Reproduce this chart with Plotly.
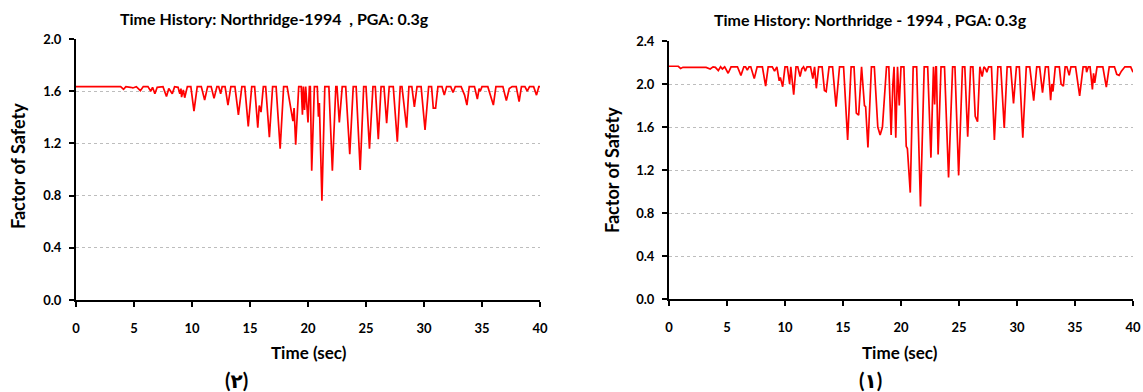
import plotly.graph_objects as go

# ---------------- data: panel (2) (left) ----------------
time_2 = [
    0, 3.85, 4.1, 4.3, 4.7, 4.9, 5.2, 5.55, 5.8, 6.2,
    6.45, 6.6, 6.8, 7.0, 7.5, 7.8, 8.0, 8.3, 8.5, 8.8,
    8.95, 9.05, 9.1, 9.25, 9.37, 9.6, 9.9, 10.17, 10.45, 10.8,
    11.09, 11.35, 11.65, 11.9, 12.15, 12.3, 12.47, 12.6, 12.85, 13.1,
    13.35, 13.7, 14.0, 14.3, 14.55, 14.85, 15.15, 15.4, 15.67, 15.8,
    15.95, 16.15, 16.35, 16.67, 16.95, 17.25, 17.6, 17.9, 18.2, 18.55,
    18.7, 18.8, 18.94, 19.2, 19.42, 19.52, 19.6, 19.7, 19.8, 20.0,
    20.12, 20.2, 20.32, 20.55, 20.8, 20.9, 20.98, 21.2, 21.45, 21.8,
    22.1, 22.4, 22.5, 22.7, 22.95, 23.25, 23.6, 23.9, 24.15, 24.5,
    24.8, 25.0, 25.3, 25.6, 25.8, 26.06, 26.3, 26.55, 26.78, 27.0,
    27.35, 27.7, 27.95, 28.1, 28.3, 28.5, 28.7, 28.95, 29.17, 29.4,
    29.75, 30.09, 30.4, 30.65, 30.8, 31.0, 31.2, 31.55, 31.75, 31.95,
    32.3, 32.5, 32.7, 33.2, 33.5, 33.7, 33.9, 34.35, 34.6, 34.75,
    34.85, 35.0, 35.5, 35.8, 35.98, 36.2, 36.8, 37.1, 37.35, 37.6,
    37.95, 38.2, 38.4, 38.7, 38.9, 39.1, 39.45, 39.7, 39.9, 40.0,
]
fs_2 = [
    1.635, 1.635, 1.614, 1.635, 1.63, 1.625, 1.635, 1.604, 1.635, 1.635,
    1.60, 1.63, 1.58, 1.63, 1.635, 1.56, 1.62, 1.58, 1.635, 1.63,
    1.58, 1.62, 1.555, 1.61, 1.55, 1.635, 1.635, 1.448, 1.635, 1.635,
    1.533, 1.635, 1.635, 1.545, 1.635, 1.635, 1.58, 1.635, 1.635, 1.494,
    1.635, 1.635, 1.418, 1.635, 1.635, 1.33, 1.635, 1.635, 1.32, 1.49,
    1.44, 1.635, 1.635, 1.247, 1.635, 1.635, 1.16, 1.635, 1.635, 1.44,
    1.37, 1.47, 1.19, 1.635, 1.635, 1.42, 1.635, 1.456, 1.635, 1.36,
    1.635, 1.635, 0.99, 1.635, 1.635, 1.405, 1.51, 0.76, 1.635, 1.635,
    0.99, 1.635, 1.635, 1.36, 1.635, 1.635, 1.118, 1.635, 1.635, 0.996,
    1.635, 1.635, 1.16, 1.635, 1.635, 1.233, 1.635, 1.635, 1.354, 1.635,
    1.635, 1.213, 1.635, 1.635, 1.45, 1.32, 1.635, 1.635, 1.48, 1.635,
    1.635, 1.303, 1.635, 1.635, 1.47, 1.47, 1.635, 1.635, 1.57, 1.635,
    1.635, 1.59, 1.635, 1.635, 1.57, 1.494, 1.635, 1.635, 1.54, 1.62,
    1.60, 1.635, 1.635, 1.545, 1.494, 1.635, 1.635, 1.528, 1.62, 1.635,
    1.635, 1.52, 1.635, 1.635, 1.60, 1.635, 1.635, 1.57, 1.635, 1.635,
]

# ---------------- data: panel (1) (right) ----------------
time_1 = [
    0, 0.8, 1.0, 1.2, 3.2, 3.55, 3.8, 4.0, 4.25, 4.45,
    4.6, 4.8, 5.1, 5.35, 5.9, 6.2, 6.45, 6.6, 6.75, 6.9,
    7.05, 7.35, 7.6, 8.05, 8.33, 8.55, 8.9, 9.1, 9.3, 9.5,
    9.6, 9.8, 10.0, 10.2, 10.4, 10.5, 10.75, 10.95, 11.1, 11.3,
    11.45, 11.6, 11.75, 11.9, 12.2, 12.4, 12.55, 12.7, 12.9, 13.2,
    13.4, 13.55, 13.8, 14.1, 14.4, 14.7, 15.05, 15.4, 15.7, 15.95,
    16.15, 16.35, 16.6, 16.85, 16.95, 17.15, 17.45, 17.7, 18.0, 18.2,
    18.4, 18.75, 18.95, 19.15, 19.3, 19.4, 19.55, 19.7, 19.85, 20.0,
    20.25, 20.45, 20.55, 20.8, 21.05, 21.35, 21.68, 22.0, 22.3, 22.58,
    22.8, 22.9, 23.0, 23.05, 23.2, 23.45, 23.75, 24.1, 24.45, 24.65,
    24.97, 25.3, 25.5, 25.75, 26.0, 26.2, 26.4, 26.6, 26.8, 27.0,
    27.15, 27.3, 27.4, 27.55, 27.8, 28.05, 28.35, 28.6, 28.9, 29.15,
    29.45, 29.7, 29.95, 30.2, 30.5, 30.8, 31.1, 31.44, 31.7, 31.95,
    32.2, 32.45, 32.7, 32.9, 33.0, 33.1, 33.3, 33.65, 33.8, 34.0,
    34.15, 34.3, 34.5, 34.65, 35.05, 35.4, 35.7, 35.95, 36.0, 36.15,
    36.3, 36.5, 36.6, 36.7, 36.9, 37.4, 37.7, 37.95, 38.4, 38.6,
    38.8, 39.0, 39.3, 39.8, 40.0,
]
fs_1 = [
    2.165, 2.165, 2.145, 2.155, 2.155, 2.14, 2.16, 2.155, 2.125, 2.16,
    2.14, 2.16, 2.10, 2.16, 2.16, 2.08, 2.16, 2.16, 2.13, 2.16,
    2.16, 2.05, 2.16, 2.16, 1.98, 2.16, 2.16, 2.12, 2.16, 2.03,
    2.06, 1.975, 2.16, 2.16, 2.00, 2.16, 1.90, 2.16, 2.16, 2.07,
    2.14, 2.16, 2.12, 2.16, 2.16, 2.05, 2.16, 1.96, 2.16, 2.16,
    1.94, 1.93, 2.16, 2.16, 1.79, 2.16, 2.16, 1.48, 2.16, 2.16,
    1.73, 1.71, 2.16, 1.80, 1.79, 1.41, 2.16, 2.16, 1.60, 1.525,
    1.60, 2.16, 2.16, 1.525, 2.0, 2.16, 1.50, 2.16, 1.80, 2.16,
    2.16, 1.42, 1.40, 0.99, 2.16, 2.16, 0.86, 2.16, 2.16, 1.315,
    2.16, 1.81, 2.16, 2.16, 1.345, 2.16, 2.16, 1.13, 2.16, 2.16,
    1.15, 2.16, 2.16, 1.51, 2.16, 2.16, 1.70, 1.65, 2.16, 2.07,
    2.16, 2.14, 2.11, 2.16, 2.16, 1.48, 2.16, 2.16, 1.59, 2.16,
    2.16, 1.82, 2.16, 2.16, 1.50, 2.16, 2.16, 1.845, 2.16, 2.16,
    1.92, 2.16, 2.16, 1.85, 2.0, 1.93, 2.16, 2.16, 2.0, 1.98,
    2.16, 2.16, 2.08, 2.16, 2.16, 1.89, 2.16, 2.16, 2.11, 2.16,
    2.16, 1.95, 2.10, 2.01, 2.16, 2.16, 1.97, 2.16, 2.16, 2.09,
    2.08, 2.12, 2.16, 2.16, 2.11,
]

# ---------------- text ----------------
title_2 = "Time History: Northridge-1994  , PGA: 0.3g"
title_1 = "Time History: Northridge - 1994 , PGA: 0.3g"
x_title = "Time (sec)"
y_title = "Factor of Safety"
caption_2 = "(٢)"
caption_1 = "(١)"
x_ticks = [0, 5, 10, 15, 20, 25, 30, 35, 40]
y_ticks_2 = [0.0, 0.4, 0.8, 1.2, 1.6, 2.0]
y_ticks_1 = [0.0, 0.4, 0.8, 1.2, 1.6, 2.0, 2.4]

W, H = 1143, 392
FONT = "Lato, 'DejaVu Sans', sans-serif"


def px(x):
    return x / W


def py(y):
    return 1 - y / H


fig = go.Figure()
fig.add_trace(go.Scatter(x=time_2, y=fs_2, mode="lines",
                         line=dict(color="#FF0000", width=1.7),
                         xaxis="x", yaxis="y", showlegend=False))
fig.add_trace(go.Scatter(x=time_1, y=fs_1, mode="lines",
                         line=dict(color="#FF0000", width=1.7),
                         xaxis="x2", yaxis="y2", showlegend=False))

tickfont = dict(family=FONT, size=13, color="black", weight="bold")
xcommon = dict(range=[0, 40], tickvals=x_ticks, showgrid=False, zeroline=False,
               showline=True, linecolor="black", linewidth=2,
               ticks="outside", ticklen=5, tickwidth=2, tickcolor="black",
               tickfont=tickfont, ticklabelstandoff=10, fixedrange=True,
               automargin=False)
ycommon = dict(showgrid=True, gridcolor="#BDBDBD", griddash="dot", gridwidth=1,
               zeroline=False, showline=True, linecolor="black", linewidth=2,
               ticks="outside", ticklen=5, tickwidth=2, tickcolor="black",
               tickfont=tickfont, tickformat=".1f", ticklabelstandoff=5,
               fixedrange=True, automargin=False)

fig.update_layout(
    template="none",
    width=W, height=H,
    margin=dict(l=0, r=0, t=0, b=0, autoexpand=False),
    paper_bgcolor="white", plot_bgcolor="white",
    showlegend=False,
    xaxis=dict(domain=[px(76), px(540)], anchor="y", **xcommon),
    yaxis=dict(domain=[py(300), py(39)], anchor="x", range=[0, 2.0],
               tickvals=y_ticks_2, **ycommon),
    xaxis2=dict(domain=[px(669), px(1133)], anchor="y2", **xcommon),
    yaxis2=dict(domain=[py(299), py(41)], anchor="x2", range=[0, 2.4],
                tickvals=y_ticks_1, **ycommon),
)

annos = [
    (274, 18, title_2, 0, 16),
    (870, 20, title_1, 0, 16),
    (309, 352, x_title, 0, 17),
    (900, 352, x_title, 0, 17),
    (18, 166, y_title, -90, 18),
    (612, 170, y_title, -90, 18),
    (236, 380, caption_2, 0, 20),
    (870, 380, caption_1, 0, 20),
]
for x, y, text, ang, size in annos:
    fig.add_annotation(x=px(x), y=py(y), xref="paper", yref="paper",
                       text=text, showarrow=False, textangle=ang,
                       xanchor="center", yanchor="middle",
                       font=dict(family=FONT, size=size, color="black",
                                 weight="bold"))

fig.write_html("out.html",
               config={"displayModeBar": False, "staticPlot": True},
               post_script="document.body.style.margin='0px';"
                           "document.body.style.overflow='hidden';")
